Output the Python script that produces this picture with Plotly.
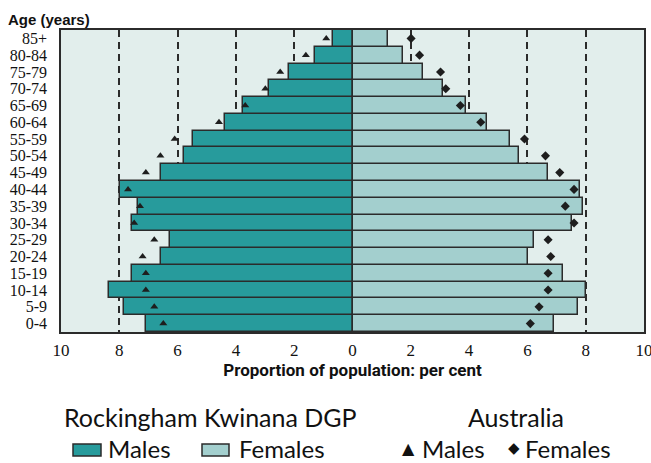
import plotly.graph_objects as go

age_groups = ["0-4", "5-9", "10-14", "15-19", "20-24", "25-29", "30-34", "35-39",
              "40-44", "45-49", "50-54", "55-59", "60-64", "65-69", "70-74",
              "75-79", "80-84", "85+"]

rk_males = [7.07, 7.85, 8.37, 7.56, 6.56, 6.27, 7.57, 7.37, 7.97, 6.56, 5.78,
            5.47, 4.37, 3.77, 2.87, 2.17, 1.28, 0.67]
rk_females = [6.92, 7.72, 8.0, 7.23, 6.03, 6.21, 7.52, 7.92, 7.81, 6.71, 5.72,
              5.42, 4.62, 3.91, 3.12, 2.41, 1.72, 1.21]
aus_males = [6.49, 6.8, 7.09, 7.09, 7.2, 6.8, 7.49, 7.29, 7.7, 7.09, 6.59,
             6.1, 4.58, 3.68, 2.99, 2.48, 1.6, 0.9]
aus_females = [6.1, 6.4, 6.71, 6.71, 6.8, 6.71, 7.6, 7.3, 7.6, 7.11, 6.62,
               5.9, 4.4, 3.7, 3.2, 3.02, 2.3, 2.01]

tick_vals = [-10, -8, -6, -4, -2, 0, 2, 4, 6, 8, 10]
tick_text = ["10", "8", "6", "4", "2", "0", "2", "4", "6", "8", "10"]

MALE_C = "#279b9c"
FEMALE_C = "#a3cfce"
BG = "#e2eeec"
LINE = "#2b2b2b"

W, H = 651, 463
L, R, T, B = 61, 7, 30, 131
pw, ph = W - L - R, H - T - B


def px(x):
    return (x - L) / pw


def py(y):
    return (H - B - y) / ph


fig = go.Figure()
fig.add_trace(go.Bar(
    y=age_groups, x=[-v for v in rk_males], orientation="h",
    marker=dict(color=MALE_C, line=dict(color=LINE, width=1.5)),
    name="Males", showlegend=False))
fig.add_trace(go.Bar(
    y=age_groups, x=rk_females, orientation="h",
    marker=dict(color=FEMALE_C, line=dict(color=LINE, width=1.5)),
    name="Females", showlegend=False))
fig.add_trace(go.Scatter(
    y=age_groups, x=[-v for v in aus_males], mode="markers",
    marker=dict(symbol="triangle-up", size=7, color="#1e1e1e"),
    showlegend=False))
fig.add_trace(go.Scatter(
    y=age_groups, x=aus_females, mode="markers",
    marker=dict(symbol="diamond", size=7, color="#1e1e1e"),
    showlegend=False))

fig.update_layout(
    width=W, height=H,
    margin=dict(l=L, r=R, t=T, b=B, autoexpand=False),
    paper_bgcolor="white", plot_bgcolor=BG,
    barmode="overlay", bargap=0,
    xaxis=dict(range=[-10, 10], tickmode="array", tickvals=tick_vals, ticktext=tick_text,
               automargin=False, ticklabeloverflow="allow",
               showgrid=True, gridcolor="#2b2b2b", gridwidth=1.5,
               griddash="7px,5px",
               zeroline=True, zerolinecolor=LINE, zerolinewidth=1.5,
               showline=True, linecolor=LINE, linewidth=1.5, mirror=True,
               ticks="", ticklabelstandoff=2,
               tickfont=dict(family="Liberation Serif, serif", size=17, color="#111"),
               title=dict(text="<b>Proportion of population: per cent</b>",
                          font=dict(family="Roboto, sans-serif", size=17, color="#111"),
                          standoff=4)),
    yaxis=dict(showgrid=False, showline=True, linecolor=LINE, linewidth=1.5,
               mirror=True, ticks="", ticklabelstandoff=9, automargin=False,
               tickmode="array", tickvals=age_groups, ticktext=age_groups,
               range=[-0.5, 17.5],
               tickfont=dict(family="Liberation Serif, serif", size=16, color="#111")),
    font=dict(family="Liberation Sans, sans-serif", color="#111"),
)

legend_font = dict(family="Lato, sans-serif", size=25, color="#111")
row_font = dict(family="Lato, sans-serif", size=24, color="#111")
TOP_Y = 417
ROW_Y = 448

annotations = [
    dict(text="<b>Age (years)</b>", x=px(7), y=py(10), xanchor="left", yanchor="top",
         font=dict(family="Liberation Sans, sans-serif", size=15, color="#111")),
    dict(text="Rockingham Kwinana DGP", x=px(210), y=py(TOP_Y), xanchor="center",
         yanchor="middle", font=legend_font),
    dict(text="Males", x=px(107), y=py(ROW_Y), xanchor="left", yanchor="middle",
         font=row_font),
    dict(text="Females", x=px(238), y=py(ROW_Y), xanchor="left", yanchor="middle",
         font=row_font),
    dict(text="Australia", x=px(516), y=py(TOP_Y), xanchor="center", yanchor="middle",
         font=legend_font),
    dict(text="▲", x=px(408), y=py(ROW_Y), xanchor="center", yanchor="middle",
         font=dict(family="DejaVu Sans", size=16, color="#111")),
    dict(text="Males", x=px(421), y=py(ROW_Y), xanchor="left", yanchor="middle",
         font=row_font),
    dict(text="◆", x=px(514), y=py(ROW_Y), xanchor="center", yanchor="middle",
         font=dict(family="DejaVu Sans", size=15, color="#111")),
    dict(text="Females", x=px(524), y=py(ROW_Y), xanchor="left", yanchor="middle",
         font=row_font),
]
for a in annotations:
    a.update(xref="paper", yref="paper", showarrow=False, borderpad=0)
fig.update_layout(annotations=annotations)

shapes = [
    dict(type="rect", x0=px(73), x1=px(101), y0=py(456), y1=py(444),
         fillcolor=MALE_C, line=dict(color=LINE, width=1.5)),
    dict(type="rect", x0=px(202), x1=px(229), y0=py(456), y1=py(444),
         fillcolor=FEMALE_C, line=dict(color=LINE, width=1.5)),
]
for s in shapes:
    s.update(xref="paper", yref="paper")
fig.update_layout(shapes=shapes)

fig.write_html("out.html", config={"displayModeBar": False},
               post_script="document.body.style.margin='0';document.body.style.overflow='hidden';")
